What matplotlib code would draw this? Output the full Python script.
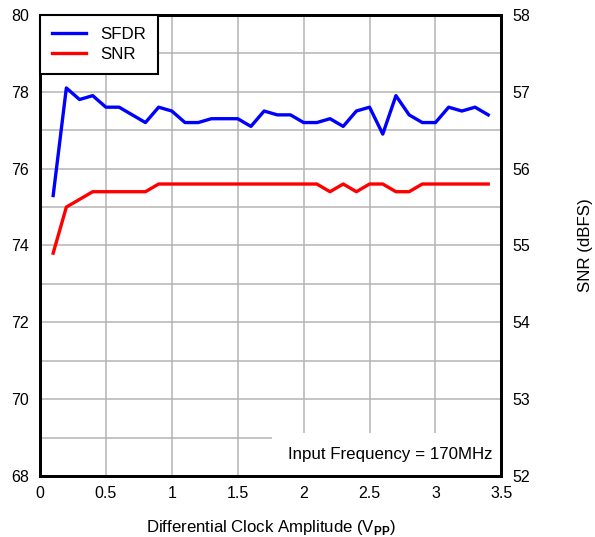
import matplotlib
matplotlib.use("Agg")
import matplotlib.pyplot as plt
from matplotlib.patches import Rectangle

plt.rcParams["font.family"] = ["Liberation Sans", "DejaVu Sans"]
plt.rcParams["mathtext.fontset"] = "custom"
plt.rcParams["mathtext.rm"] = "Liberation Sans"
plt.rcParams["mathtext.bf"] = "Liberation Sans:bold"

# clock amplitude (Vpp)
amplitude = [0.1, 0.2, 0.3, 0.4, 0.5, 0.6, 0.7, 0.8, 0.9, 1.0,
             1.1, 1.2, 1.3, 1.4, 1.5, 1.6, 1.7, 1.8, 1.9, 2.0,
             2.1, 2.2, 2.3, 2.4, 2.5, 2.6, 2.7, 2.8, 2.9, 3.0,
             3.1, 3.2, 3.3, 3.4]

# SFDR (dBc), left axis
sfdr = [75.3, 78.1, 77.8, 77.9, 77.6, 77.6, 77.4, 77.2, 77.6, 77.5,
        77.2, 77.2, 77.3, 77.3, 77.3, 77.1, 77.5, 77.4, 77.4, 77.2,
        77.2, 77.3, 77.1, 77.5, 77.6, 76.9, 77.9, 77.4, 77.2, 77.2,
        77.6, 77.5, 77.6, 77.4]

# SNR (dBFS), right axis
snr = [54.9, 55.5, 55.6, 55.7, 55.7, 55.7, 55.7, 55.7, 55.8, 55.8,
       55.8, 55.8, 55.8, 55.8, 55.8, 55.8, 55.8, 55.8, 55.8, 55.8,
       55.8, 55.7, 55.8, 55.7, 55.8, 55.8, 55.7, 55.7, 55.8, 55.8,
       55.8, 55.8, 55.8, 55.8]

xticks = [0, 0.5, 1, 1.5, 2, 2.5, 3, 3.5]
xticklabels = ["0", "0.5", "1", "1.5", "2", "2.5", "3", "3.5"]
left_ticks = [68, 70, 72, 74, 76, 78, 80]
right_ticks = [52, 53, 54, 55, 56, 57, 58]

fig = plt.figure(figsize=(5.95, 5.37), dpi=100)
ax = fig.add_axes([0.0672, 0.1136, 0.7755, 0.8585])
ax2 = ax.twinx()

ax.set_xlim(0, 3.5)
ax.set_ylim(68, 80)
ax2.set_ylim(52, 58)

# grid: every 0.5 V on x, every 1 dB on y
ax.grid(True, color="#b4b4b4", linewidth=1.1)
ax.set_xticks(xticks)
ax.set_xticklabels(xticklabels, fontsize=11.5)
ax.set_yticks(range(68, 81))
ax.set_yticklabels([str(v) if v in left_ticks else "" for v in range(68, 81)], fontsize=11.5)
ax2.set_yticks(right_ticks)
ax2.set_yticklabels([str(v) for v in right_ticks], fontsize=11.5)

ax.tick_params(axis="both", length=0, pad=8)
ax.tick_params(axis="x", pad=7)
ax2.tick_params(axis="y", length=0, pad=8)

for a in (ax, ax2):
    for s in a.spines.values():
        s.set_linewidth(2.0)
        s.set_color("black")

l1, = ax.plot(amplitude, sfdr, color="#0000ff", linewidth=2.4, label="SFDR")
l2, = ax2.plot(amplitude, snr, color="#ff0000", linewidth=2.4, label="SNR")

# white patch behind the condition note
ax.add_patch(Rectangle((1.76, 68), 1.74, 1.11, facecolor="white",
                       edgecolor="none", zorder=1.8))
ax.text(3.435, 68.56, "Input Frequency = 170MHz", ha="right", va="center",
        fontsize=12.2, zorder=3)

ax.set_xlabel(r"Differential Clock Amplitude (V$_{\mathbf{PP}}$)", fontsize=12.1,
              va="bottom")
ax.xaxis.set_label_coords(0.5, -0.132)
ax2.set_ylabel("SNR (dBFS)", fontsize=12.2)
ax2.yaxis.set_label_coords(1.166, 0.5)

leg = ax2.legend(handles=[l1, l2], loc="upper left", bbox_to_anchor=(0, 1),
                 borderaxespad=0, fontsize=12.2, fancybox=False, framealpha=1,
                 edgecolor="black", handlelength=2.0, handletextpad=0.85,
                 borderpad=0.72, labelspacing=0.28)
leg.get_frame().set_linewidth(1.5)
leg.set_zorder(5)

fig.savefig("out.png", dpi=100)
